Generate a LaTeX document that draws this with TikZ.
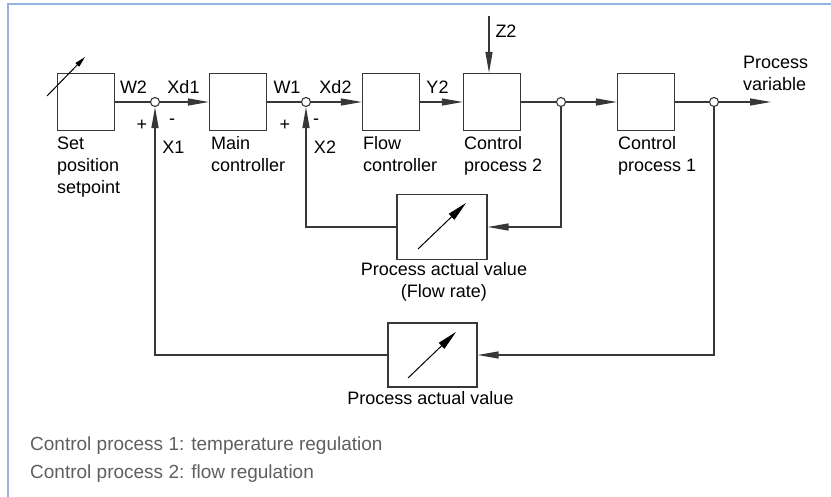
\documentclass[tikz,border=0pt]{standalone}
\usepackage{fontspec}
\setmainfont{Liberation Sans}
\usetikzlibrary{arrows.meta}
\definecolor{framecol}{RGB}{148,180,222}
\definecolor{linecol}{RGB}{55,55,55}
\definecolor{notecol}{RGB}{95,95,95}
\begin{document}
\begin{tikzpicture}[x=1pt,y=-1pt,
  lbl/.style={font=\fontsize{18}{22}\selectfont, inner sep=0pt, text=black},
  blk/.style={draw=linecol, line width=1.2pt, minimum width=57pt, minimum height=57pt, inner sep=0pt},
  meter/.style={draw=linecol, line width=1.2pt, inner sep=0pt},
  junc/.style={circle, draw=linecol, fill=white, line width=1.1pt, minimum size=9pt, inner sep=0pt},
  wire/.style={draw=linecol, line width=1.3pt},
  arr/.style={wire, -{Triangle[length=21pt,width=7pt]}},
  slash/.style={draw=black, line width=1pt, -{Triangle[length=11pt,width=5pt]}},
  mslash/.style={draw=black, line width=1pt, -{Triangle[length=20pt,width=8pt]}},
  note/.style={font=\fontsize{19}{23}\selectfont, inner sep=0pt, text=notecol, anchor=base west}
]
\useasboundingbox (0,0) rectangle (831,497);
% frame
\draw[framecol, line width=2pt] (8,497) -- (8,4) -- (831,4);

% blocks
\node[blk] (sp)  at (86,102) {};
\node[blk] (mc)  at (238,102) {};
\node[blk] (fc)  at (391,102) {};
\node[blk] (cp2) at (492,102) {};
\node[blk] (cp1) at (646,102) {};
\node[meter, minimum width=90pt, minimum height=65pt] (fb1) at (442,227) {};
\node[meter, minimum width=89pt, minimum height=64pt] (fb2) at (432.5,355) {};

% junctions
\node[junc] (j1) at (155,102) {};
\node[junc] (j2) at (306,102) {};
\node[junc] (j3) at (561,102) {};
\node[junc] (j4) at (714,102) {};
\coordinate (out) at (771,102);
\coordinate (z2) at (489,16);

% slashes (adjustment arrows)
\coordinate (s1a) at (47,96);  \coordinate (s1b) at (85,57);
\coordinate (s2a) at (418,249); \coordinate (s2b) at (466,203);
\coordinate (s3a) at (408,378); \coordinate (s3b) at (456,332);
\draw[slash] (s1a) -- (s1b);
\draw[mslash] (s2a) -- (s2b);
\draw[mslash] (s3a) -- (s3b);

% forward path
\draw[wire] (sp) -- (j1);
\draw[arr] (j1) -- (mc);
\draw[wire] (mc) -- (j2);
\draw[arr] (j2) -- (fc);
\draw[arr] (fc) -- (cp2);
\draw[wire] (cp2) -- (j3);
\draw[arr] (j3) -- (cp1);
\draw[wire] (cp1) -- (j4);
\draw[arr] (j4) -- (out);
\draw[arr] (z2) -- (z2 |- cp2.north);

% feedback paths
\draw[arr] (j3.south) |- (fb1.east);
\draw[arr] (fb1.west) -| (j2.south);
\draw[arr] (j4.south) |- (fb2.east);
\draw[arr] (fb2.west) -| (j1.south);

% signal labels
\node[lbl] (lW2)  at (133.5,87) {W2};
\node[lbl] (lXd1) at (183.5,87) {Xd1};
\node[lbl] (lp1)  at (142,125) {+};
\node[lbl] (lm1)  at (172,122) {-};
\node[lbl] (lX1)  at (173.5,147) {X1};
\node[lbl] (lW1)  at (287,87) {W1};
\node[lbl] (lXd2) at (335.5,87) {Xd2};
\node[lbl] (lp2)  at (285,125) {+};
\node[lbl] (lm2)  at (316,122) {-};
\node[lbl] (lX2)  at (325,147) {X2};
\node[lbl] (lY2)  at (437.5,87) {Y2};
\node[lbl] (lZ2)  at (506,31) {Z2};
\node[lbl, anchor=north west, align=left] (lPV) at (743,55.5) {Process\\variable};

% block labels
\node[lbl, anchor=north west, align=left] (lsp)  at (57,136.5) {Set\\position\\setpoint};
\node[lbl, anchor=north west, align=left] (lmc)  at (211,136.5) {Main\\controller};
\node[lbl, anchor=north west, align=left] (lfc)  at (363,136.5) {Flow\\controller};
\node[lbl, anchor=north west, align=left] (lcp2) at (464,136.5) {Control\\process 2};
\node[lbl, anchor=north west, align=left] (lcp1) at (618,136.5) {Control\\process 1};
\node[lbl, anchor=north, align=center] (lfb1) at (444,262.5) {Process actual value\\(Flow rate)};
\node[lbl, anchor=base] (lfb2) at (430.5,404.5) {Process actual value};

% notes
\node[note] (n1) at (30,450) {Control process 1: temperature regulation};
\node[note] (n2) at (30,478) {Control process 2: flow regulation};
\end{tikzpicture}
\end{document}
